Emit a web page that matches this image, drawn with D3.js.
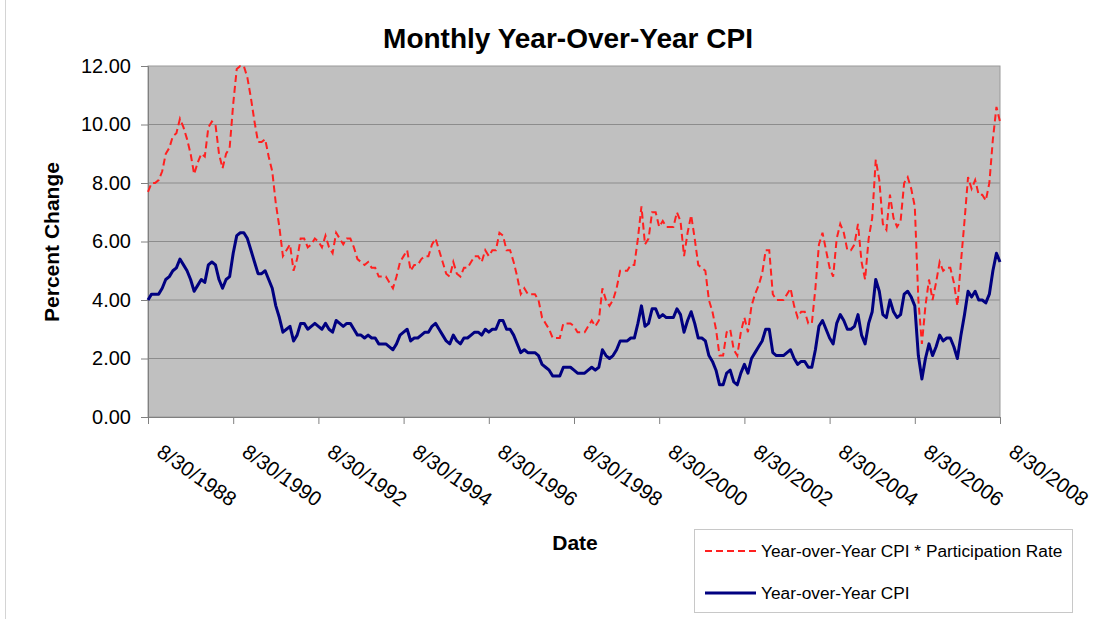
<!DOCTYPE html>
<html>
<head>
<meta charset="utf-8">
<script src="https://cdn.jsdelivr.net/npm/d3@7"></script>
<style>
  body { margin: 0; background: #fff; }
  text { font-family: "Liberation Sans", Arial, sans-serif; fill: #000; }
</style>
</head>
<body>
<svg id="chart" width="1118" height="619"></svg>
<script>
// monthly values, Aug 1988 .. Aug 2008
var cpi = [
  4.0, 4.2, 4.2, 4.2, 4.4,
  4.7, 4.8, 5.0, 5.1, 5.4, 5.2, 5.0, 4.7, 4.3, 4.5, 4.7, 4.6,
  5.2, 5.3, 5.2, 4.7, 4.4, 4.7, 4.8, 5.6, 6.2, 6.3, 6.3, 6.1,
  5.7, 5.3, 4.9, 4.9, 5.0, 4.7, 4.4, 3.8, 3.4, 2.9, 3.0, 3.1,
  2.6, 2.8, 3.2, 3.2, 3.0, 3.1, 3.2, 3.1, 3.0, 3.2, 3.0, 2.9,
  3.3, 3.2, 3.1, 3.2, 3.2, 3.0, 2.8, 2.8, 2.7, 2.8, 2.7, 2.7,
  2.5, 2.5, 2.5, 2.4, 2.3, 2.5, 2.8, 2.9, 3.0, 2.6, 2.7, 2.7,
  2.8, 2.9, 2.9, 3.1, 3.2, 3.0, 2.8, 2.6, 2.5, 2.8, 2.6, 2.5,
  2.7, 2.7, 2.8, 2.9, 2.9, 2.8, 3.0, 2.9, 3.0, 3.0, 3.3, 3.3,
  3.0, 3.0, 2.8, 2.5, 2.2, 2.3, 2.2, 2.2, 2.2, 2.1, 1.8, 1.7,
  1.6, 1.4, 1.4, 1.4, 1.7, 1.7, 1.7, 1.6, 1.5, 1.5, 1.5, 1.6,
  1.7, 1.6, 1.7, 2.3, 2.1, 2.0, 2.1, 2.3, 2.6, 2.6, 2.6, 2.7,
  2.7, 3.2, 3.8, 3.1, 3.2, 3.7, 3.7, 3.4, 3.5, 3.4, 3.4, 3.4,
  3.7, 3.5, 2.9, 3.3, 3.6, 3.2, 2.7, 2.7, 2.6, 2.1, 1.9, 1.6,
  1.1, 1.1, 1.5, 1.6, 1.2, 1.1, 1.5, 1.8, 1.5, 2.0, 2.2, 2.4,
  2.6, 3.0, 3.0, 2.2, 2.1, 2.1, 2.1, 2.2, 2.3, 2.0, 1.8, 1.9,
  1.9, 1.7, 1.7, 2.3, 3.1, 3.3, 3.0, 2.7, 2.5, 3.2, 3.5, 3.3,
  3.0, 3.0, 3.1, 3.5, 2.8, 2.5, 3.2, 3.6, 4.7, 4.3, 3.5, 3.4,
  4.0, 3.6, 3.4, 3.5, 4.2, 4.3, 4.1, 3.8, 2.1, 1.3, 2.0, 2.5,
  2.1, 2.4, 2.8, 2.6, 2.7, 2.7, 2.4, 2.0, 2.8, 3.5, 4.3, 4.1,
  4.3, 4.0, 4.0, 3.9, 4.2, 5.0, 5.6, 5.3
];

var cpiPart = [
  7.7, 8.0, 8.0, 8.1, 8.4,
  9.0, 9.2, 9.6, 9.7, 10.2, 9.9, 9.5, 9.0, 8.3, 8.7, 9.0, 8.9,
  9.9, 10.1, 10.0, 9.0, 8.5, 9.0, 9.2, 10.7, 11.9, 12.0, 12.0, 11.6,
  10.9, 10.1, 9.4, 9.4, 9.5, 8.9, 8.4, 7.3, 6.5, 5.5, 5.7, 5.9,
  5.0, 5.4, 6.1, 6.1, 5.8, 5.9, 6.1, 6.0, 5.8, 6.2, 5.8, 5.6,
  6.3, 6.1, 5.9, 6.1, 6.1, 5.8, 5.4, 5.3, 5.2, 5.3, 5.1, 5.1,
  4.8, 4.8, 4.8, 4.6, 4.4, 4.8, 5.3, 5.5, 5.7, 5.0, 5.2, 5.2,
  5.4, 5.5, 5.5, 5.9, 6.1, 5.7, 5.3, 4.9, 4.8, 5.3, 4.9, 4.8,
  5.1, 5.1, 5.3, 5.5, 5.5, 5.3, 5.7, 5.5, 5.7, 5.7, 6.3, 6.2,
  5.7, 5.7, 5.3, 4.8, 4.2, 4.4, 4.2, 4.2, 4.2, 4.0, 3.4, 3.2,
  3.0, 2.7, 2.7, 2.7, 3.2, 3.2, 3.2, 3.1, 2.9, 2.9, 2.9, 3.1,
  3.3, 3.1, 3.3, 4.4, 4.0, 3.8, 4.0, 4.4, 5.0, 5.0, 5.0, 5.2,
  5.2, 6.1, 7.2, 5.9, 6.1, 7.0, 7.0, 6.5, 6.7, 6.5, 6.5, 6.5,
  7.0, 6.7, 5.5, 6.3, 6.9, 6.1, 5.2, 5.1, 5.0, 4.0, 3.6, 3.0,
  2.1, 2.1, 2.9, 3.0, 2.3, 2.1, 2.9, 3.4, 2.9, 3.8, 4.2, 4.5,
  4.9, 5.7, 5.7, 4.2, 4.0, 4.0, 4.0, 4.2, 4.4, 3.8, 3.4, 3.6,
  3.6, 3.2, 3.2, 4.4, 5.9, 6.3, 5.7, 5.1, 4.8, 6.1, 6.6, 6.3,
  5.7, 5.7, 5.9, 6.6, 5.3, 4.7, 6.1, 6.8, 8.8, 8.1, 6.6, 6.4,
  7.6, 6.8, 6.5, 6.7, 8.0, 8.2, 7.8, 7.2, 4.0, 2.5, 3.8, 4.7,
  4.0, 4.6, 5.3, 5.0, 5.1, 5.1, 4.6, 3.8, 5.3, 6.7, 8.2, 7.8,
  8.1, 7.6, 7.6, 7.4, 8.0, 9.5, 10.6, 10.1
];

var dateLabels = ["8/30/1988", "8/30/1990", "8/30/1992", "8/30/1994", "8/30/1996",
  "8/30/1998", "8/30/2000", "8/30/2002", "8/30/2004", "8/30/2006", "8/30/2008"];
var yTicks = [0, 2, 4, 6, 8, 10, 12];

var svg = d3.select("#chart");

var x = d3.scaleLinear().domain([0, cpi.length - 1]).range([148, 1000]);
var y = d3.scaleLinear().domain([0, 12]).range([417, 66]);

// faint outer frame edge
svg.append("line").attr("x1", 5.5).attr("x2", 5.5).attr("y1", 0).attr("y2", 619)
    .attr("stroke", "#d4d4d4").attr("stroke-width", 1);

// plot area
svg.append("rect")
    .attr("x", 148).attr("y", 66)
    .attr("width", 852).attr("height", 351)
    .attr("fill", "#c0c0c0");

// gridlines
svg.append("g").selectAll("line")
    .data(yTicks.filter(function(d){ return d > 0 && d < 12; }))
    .enter().append("line")
    .attr("x1", 148).attr("x2", 1000)
    .attr("y1", function(d){ return y(d); })
    .attr("y2", function(d){ return y(d); })
    .attr("stroke", "#8c8c8c")
    .attr("stroke-width", 1);

svg.append("rect")
    .attr("x", 148).attr("y", 66)
    .attr("width", 852).attr("height", 351)
    .attr("fill", "none").attr("stroke", "#9a9a9a").attr("stroke-width", 1);

// y axis
var yAxis = svg.append("g")
    .attr("transform", "translate(148,0)")
    .call(d3.axisLeft(y).tickValues(yTicks).tickFormat(d3.format(".2f")).tickSize(7).tickPadding(10));
yAxis.select(".domain").attr("stroke", "#808080");
yAxis.selectAll(".tick line").attr("stroke", "#808080");
yAxis.selectAll("text").attr("font-size", 20).attr("fill", "#1a1a1a");

// x axis
var xAxis = svg.append("g")
    .attr("transform", "translate(0,417)")
    .call(d3.axisBottom(x).tickValues(d3.range(0, cpi.length, 24))
        .tickFormat(function(d, i){ return dateLabels[i]; }).tickSize(7));
xAxis.select(".domain").attr("stroke", "#808080");
xAxis.selectAll(".tick line").attr("stroke", "#808080");
xAxis.selectAll("text")
    .attr("font-size", 20.5)
    .attr("fill", "#1a1a1a")
    .attr("text-anchor", "start")
    .attr("x", 0).attr("y", 0).attr("dy", 0)
    .attr("transform", "translate(7,38) rotate(35)");

// lines
var line = d3.line()
    .x(function(d, i){ return x(i); })
    .y(function(d){ return y(d); });

svg.append("path")
    .datum(cpiPart)
    .attr("d", line)
    .attr("fill", "none")
    .attr("stroke", "#ff2020")
    .attr("stroke-width", 2)
    .attr("stroke-dasharray", "7,4");

svg.append("path")
    .datum(cpi)
    .attr("d", line)
    .attr("fill", "none")
    .attr("stroke", "#000080")
    .attr("stroke-width", 3)
    .attr("stroke-linejoin", "round");

// titles
svg.append("text")
    .attr("x", 568).attr("y", 48)
    .attr("text-anchor", "middle")
    .attr("font-size", 28).attr("font-weight", "bold")
    .text("Monthly Year-Over-Year CPI");

svg.append("text")
    .attr("transform", "translate(59,242) rotate(-90)")
    .attr("text-anchor", "middle")
    .attr("font-size", 21).attr("font-weight", "bold")
    .text("Percent Change");

svg.append("text")
    .attr("x", 575).attr("y", 550)
    .attr("text-anchor", "middle")
    .attr("font-size", 21).attr("font-weight", "bold")
    .text("Date");

// legend
var legend = svg.append("g");
legend.append("rect")
    .attr("x", 694.5).attr("y", 529.5)
    .attr("width", 378).attr("height", 83)
    .attr("fill", "#fff").attr("stroke", "#c8c8c8");

var legendItems = [
  { name: "Year-over-Year CPI * Participation Rate", color: "#ff2020", width: 2, dash: "7,4" },
  { name: "Year-over-Year CPI", color: "#000080", width: 3, dash: null }
];

var item = legend.selectAll("g.item")
    .data(legendItems)
    .enter().append("g")
    .attr("class", "item")
    .attr("transform", function(d, i){ return "translate(0," + (551 + i * 42) + ")"; });

item.append("line")
    .attr("x1", 705).attr("x2", 756)
    .attr("stroke", function(d){ return d.color; })
    .attr("stroke-width", function(d){ return d.width; })
    .attr("stroke-dasharray", function(d){ return d.dash; });

item.append("text")
    .attr("x", 761).attr("y", 6)
    .attr("font-size", 17.3)
    .attr("fill", "#1a1a1a")
    .text(function(d){ return d.name; });
</script>
</body>
</html>
